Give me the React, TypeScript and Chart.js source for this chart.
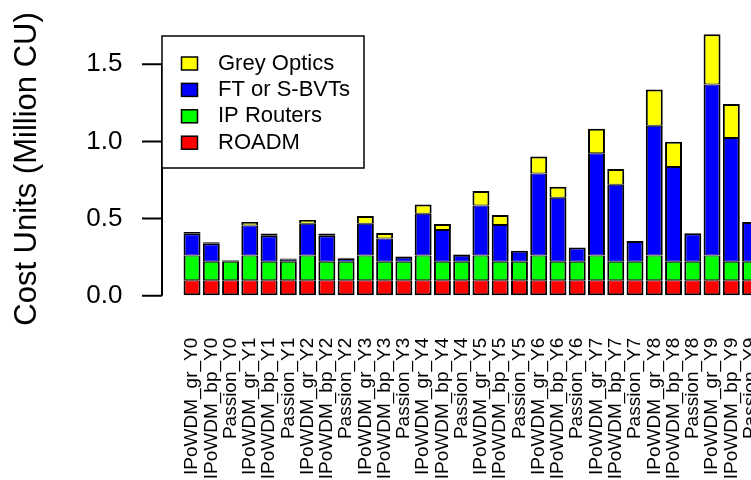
import React, { useEffect, useRef } from "react";
import { Chart, registerables } from "chart.js";

Chart.register(...registerables);

// Scenario names, interleaved per year
const categories = [
  "IPoWDM_gr_Y0", "IPoWDM_bp_Y0", "Passion_Y0",
  "IPoWDM_gr_Y1", "IPoWDM_bp_Y1", "Passion_Y1",
  "IPoWDM_gr_Y2", "IPoWDM_bp_Y2", "Passion_Y2",
  "IPoWDM_gr_Y3", "IPoWDM_bp_Y3", "Passion_Y3",
  "IPoWDM_gr_Y4", "IPoWDM_bp_Y4", "Passion_Y4",
  "IPoWDM_gr_Y5", "IPoWDM_bp_Y5", "Passion_Y5",
  "IPoWDM_gr_Y6", "IPoWDM_bp_Y6", "Passion_Y6",
  "IPoWDM_gr_Y7", "IPoWDM_bp_Y7", "Passion_Y7",
  "IPoWDM_gr_Y8", "IPoWDM_bp_Y8", "Passion_Y8",
  "IPoWDM_gr_Y9", "IPoWDM_bp_Y9", "Passion_Y9",
];

// Cost components in million cost units (stacked bottom to top)
const roadm = [
  0.1, 0.1, 0.1, 0.1, 0.1, 0.1, 0.1, 0.1, 0.1, 0.1,
  0.1, 0.1, 0.1, 0.1, 0.1, 0.1, 0.1, 0.1, 0.1, 0.1,
  0.1, 0.1, 0.1, 0.1, 0.1, 0.1, 0.1, 0.1, 0.1, 0.1,
];
const ipRouters = [
  0.16, 0.12, 0.12, 0.16, 0.12, 0.12, 0.16, 0.12, 0.12, 0.16,
  0.12, 0.12, 0.16, 0.12, 0.12, 0.16, 0.12, 0.12, 0.16, 0.12,
  0.12, 0.16, 0.12, 0.12, 0.16, 0.12, 0.12, 0.16, 0.12, 0.12,
];
const ftSbvts = [
  0.145, 0.12, 0.008, 0.195, 0.172, 0.017, 0.207, 0.172, 0.022, 0.207,
  0.15, 0.032, 0.271, 0.206, 0.045, 0.325, 0.238, 0.071, 0.532, 0.415,
  0.093, 0.664, 0.5, 0.134, 0.842, 0.615, 0.185, 1.109, 0.802, 0.258,
];
const greyOptics = [
  0.008, 0.007, 0.003, 0.023, 0.012, 0.004, 0.024, 0.012, 0.004, 0.05,
  0.037, 0.004, 0.06, 0.039, 0.004, 0.093, 0.065, 0, 0.11, 0.071,
  0, 0.158, 0.102, 0, 0.235, 0.163, 0, 0.326, 0.221, 0,
];

const yTicks = [0, 0.5, 1.0, 1.5];

const FONT = "'Liberation Sans', Arial, Helvetica, sans-serif";

// pixel row of the highest y tick; the y range is stretched so it lands there
const TOP_TICK_PX = 64.3;

// Fits the y range to the laid-out plot height
const yRangeFit = {
  id: "yRangeFit",
  afterLayout(chart: any) {
    const y = chart.scales.y;
    const top = yTicks[yTicks.length - 1];
    y.max = (top * (y.bottom - y.top)) / (y.bottom - TOP_TICK_PX);
    y.configure();
  },
};

// R-style axis, legend box and y title drawn over the chart
const decorations = {
  id: "decorations",
  afterDraw(chart: any) {
    const { ctx, chartArea } = chart;
    const y = chart.scales.y;
    const axisX = chartArea.left - 20.4;
    ctx.save();
    ctx.strokeStyle = "#000";
    ctx.lineWidth = 2;
    ctx.beginPath();
    ctx.moveTo(axisX, y.getPixelForValue(yTicks[0]));
    ctx.lineTo(axisX, y.getPixelForValue(yTicks[yTicks.length - 1]));
    for (const v of yTicks) {
      const py = y.getPixelForValue(v);
      ctx.moveTo(axisX - 20, py);
      ctx.lineTo(axisX, py);
    }
    ctx.stroke();

    // legend
    const boxL = axisX, boxT = 36, boxR = 364, boxB = 168;
    ctx.lineWidth = 1.5;
    ctx.fillStyle = "#fff";
    ctx.fillRect(boxL, boxT, boxR - boxL, boxB - boxT);
    ctx.strokeRect(boxL, boxT, boxR - boxL, boxB - boxT);
    const ds = [...chart.data.datasets].reverse();
    ctx.font = `22px ${FONT}`;
    ctx.textBaseline = "middle";
    ctx.textAlign = "left";
    ds.forEach((d: any, i: number) => {
      const cy = 63.5 + i * 26.4;
      ctx.fillStyle = d.backgroundColor;
      ctx.fillRect(181.5, cy - 6.5, 16, 13);
      ctx.lineWidth = 1.5;
      ctx.strokeRect(181.5, cy - 6.5, 16, 13);
      ctx.fillStyle = "#000";
      ctx.fillText(d.label, 218, cy);
    });

    // y axis title
    ctx.translate(27, 169);
    ctx.rotate(-Math.PI / 2);
    ctx.font = `31px ${FONT}`;
    ctx.textAlign = "center";
    ctx.fillStyle = "#000";
    ctx.fillText("Cost Units (Million CU)", 0, 0);
    ctx.restore();
  },
};

export default function App() {
  const ref = useRef<HTMLCanvasElement>(null);

  useEffect(() => {
    if (!ref.current) return;
    Chart.defaults.font.family = FONT;
    const seg = (top: number, bottom: number) => ({ top, bottom, left: 2, right: 2 });
    const hiddenTicks = (len: number) => ({
      display: true,
      drawOnChartArea: false,
      drawTicks: true,
      tickLength: len,
      color: "rgba(0,0,0,0)",
    });
    const chart = new Chart(ref.current, {
      type: "bar",
      data: {
        labels: categories,
        datasets: [
          { label: "ROADM", data: roadm, backgroundColor: "#ff0000", borderWidth: seg(1, 2) },
          { label: "IP Routers", data: ipRouters, backgroundColor: "#00ff00", borderWidth: seg(1, 1) },
          {
            label: "FT or S-BVTs",
            data: ftSbvts,
            backgroundColor: "#0000ff",
            // thicker cap where almost nothing is stacked above
            borderWidth: (c: any) => seg(greyOptics[c.dataIndex] < 0.015 ? 2 : 1, 1),
          },
          { label: "Grey Optics", data: greyOptics, backgroundColor: "#ffff00", borderWidth: seg(2, 1) },
        ].map((d) => ({
          ...d,
          borderColor: "#000",
          borderSkipped: false as const,
          barPercentage: 0.88,
          categoryPercentage: 1,
          clip: false as const,
        })),
      },
      options: {
        responsive: false,
        animation: false,
        events: [],
        layout: { padding: { left: 0, right: 39.8, top: 0, bottom: 0 } },
        plugins: { legend: { display: false }, tooltip: { enabled: false } },
        scales: {
          x: {
            stacked: true,
            grid: hiddenTicks(42),
            border: { display: false },
            ticks: {
              autoSkip: false,
              minRotation: 90,
              maxRotation: 90,
              padding: 0,
              color: "#000",
              font: { size: 19 },
            },
            afterFit: (s: any) => {
              s.height = 480 - 295.7;
            },
          },
          y: {
            stacked: true,
            min: 0,
            max: 1.8,
            grid: hiddenTicks(60),
            border: { display: false },
            ticks: {
              padding: 0,
              color: "#000",
              font: { size: 26 },
              callback: (v: any) => Number(v).toFixed(1),
            },
            afterBuildTicks: (axis: any) => {
              axis.ticks = yTicks.map((v) => ({ value: v }));
            },
            afterFit: (s: any) => {
              s.width = 182.4;
            },
          },
        },
      },
      plugins: [yRangeFit, decorations],
    });
    return () => chart.destroy();
  }, []);

  return (
    <div
      style={{
        position: "fixed",
        left: 0,
        top: 0,
        width: 751,
        height: 480,
        overflow: "hidden",
        background: "#fff",
      }}
    >
      <canvas ref={ref} width={800} height={480} style={{ width: 800, height: 480 }} />
    </div>
  );
}
